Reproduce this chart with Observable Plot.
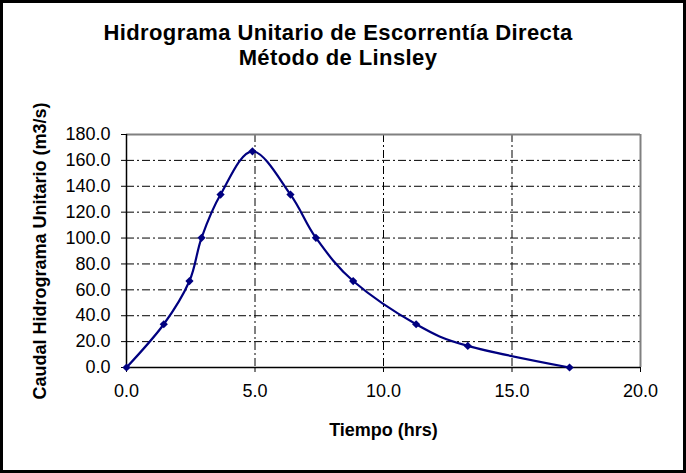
<!DOCTYPE html>
<html>
<head>
<meta charset="utf-8">
<script src="https://cdn.jsdelivr.net/npm/d3@7"></script>
<script src="https://cdn.jsdelivr.net/npm/@observablehq/plot@0.6"></script>
<style>
  html, body { margin: 0; padding: 0; background: #fff; }
  #wrap { position: relative; width: 686px; height: 473px; overflow: hidden; background: #fff; }
  #chart { position: absolute; left: 0; top: 0; }
  #title { position: absolute; left: 0; top: 20px; width: 676px; text-align: center;
           font-family: Arial, "Liberation Sans", sans-serif; font-weight: bold; font-size: 22px;
           line-height: 25px; letter-spacing: 0.4px; color: #000; }
  #border { position: absolute; left: 0; top: 0; width: 686px; height: 473px; box-sizing: border-box;
            border: 3px solid #000; pointer-events: none; }
</style>
</head>
<body>
<div id="wrap">
  <div id="chart"></div>
  <div id="title">Hidrograma Unitario de Escorrentía Directa<br>Método de Linsley</div>
  <div id="border"></div>
</div>
<script>
const tiempo = [0, 1.45, 2.45, 2.92, 3.66, 4.9, 6.38, 7.37, 8.82, 11.27, 13.28, 17.24];
const caudal = [0, 33.4, 66.8, 100.2, 133.6, 167.0, 133.6, 100.2, 66.8, 33.4, 16.7, 0];
const xTicks = [0, 5, 10, 15, 20];
const yTicks = [0, 20, 40, 60, 80, 100, 120, 140, 160, 180];
const xTitle = "Tiempo (hrs)";
const yTitle = "Caudal Hidrograma Unitario (m3/s)";

const data = tiempo.map((t, i) => ({t, q: caudal[i]}));
const fmt = d => d.toFixed(1);

const chart = Plot.plot({
  width: 686,
  height: 473,
  marginLeft: 126,
  marginRight: 46,
  marginTop: 134,
  marginBottom: 106,
  style: {fontFamily: "Arial, 'Liberation Sans', sans-serif", fontSize: "18px", color: "#000", background: "transparent", overflow: "visible"},
  x: {domain: [0, 20], label: null},
  y: {domain: [0, 180], label: null},
  marks: [
    Plot.gridY(yTicks.filter(d => d > 0 && d < 180), {stroke: "#000", strokeOpacity: 1, strokeWidth: 1, strokeDasharray: "8,3,2,3"}),
    Plot.gridX(xTicks.filter(d => d > 0 && d < 20), {stroke: "#000", strokeOpacity: 1, strokeWidth: 1, strokeDasharray: "8,3,2,3"}),
    Plot.ruleY([180], {stroke: "#808080", strokeWidth: 2}),
    Plot.ruleX([20], {stroke: "#808080", strokeWidth: 2}),
    Plot.axisY(yTicks, {tickSize: 5, tickPadding: 11, tickFormat: fmt, fontSize: 18, stroke: "#000", label: null, letterSpacing: 0.5}),
    Plot.axisX(xTicks, {tickSize: 5, tickPadding: 12, tickFormat: fmt, fontSize: 18, stroke: "#000", label: null, letterSpacing: 0.5}),
    Plot.ruleX([0], {stroke: "#000", strokeWidth: 1.5}),
    Plot.ruleY([0], {stroke: "#000", strokeWidth: 1.5}),
    Plot.line(data, {x: "t", y: "q", curve: "cardinal", tension: 0, stroke: "#000080", strokeWidth: 2.2}),
    Plot.dot(data, {x: "t", y: "q", symbol: "diamond2", r: 3.7, fill: "#000080", stroke: "none"}),
    Plot.text([xTitle], {frameAnchor: "bottom", dy: 68, lineAnchor: "bottom", fontWeight: "bold", fontSize: 18, letterSpacing: 0.3, fill: "#000"}),
    Plot.text([yTitle], {frameAnchor: "left", dx: -86, rotate: -90, textAnchor: "middle", fontWeight: "bold", fontSize: 18, letterSpacing: 0.3, fill: "#000"})
  ]
});
document.getElementById("chart").appendChild(chart);
</script>
</body>
</html>
